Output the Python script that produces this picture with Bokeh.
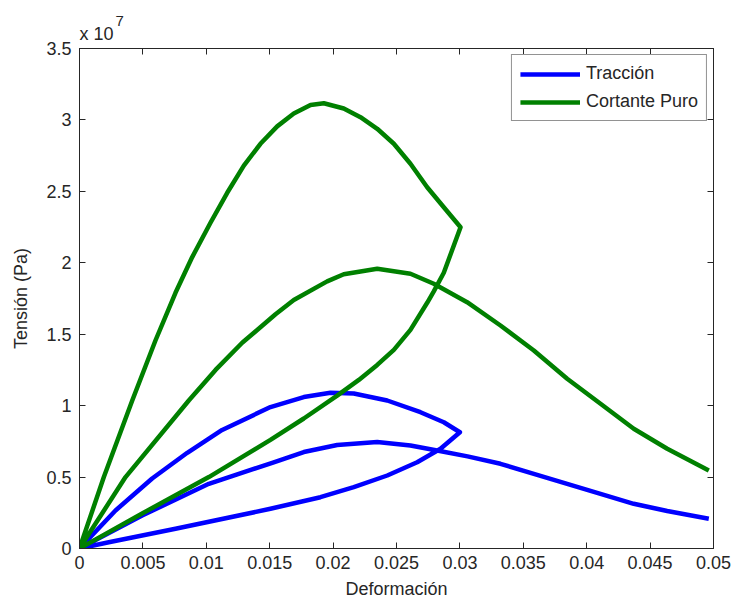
from bokeh.plotting import figure
from bokeh.models import Range1d, FixedTicker, CustomJSTickFormatter, LinearAxis, Title
from bokeh.embed import file_html
from bokeh.resources import INLINE

# Tracción: carga hasta 0.03, descarga a 0 y recarga hasta 0.05 (deformación, tensión en Pa)
traccion_def = [0, 0.00284, 0.00573, 0.0085, 0.01125, 0.01506, 0.01769, 0.01979, 0.02163,
                0.02427, 0.02689, 0.02873, 0.0300,
                0.02847, 0.02663, 0.02427, 0.02163, 0.019, 0.01506, 0.00757, 0.00231, 0,
                0.00494, 0.0102, 0.0152, 0.01769, 0.02032, 0.02348, 0.0261, 0.0282, 0.0306,
                0.0332, 0.03583, 0.03846, 0.04109, 0.04371, 0.04635, 0.04963]
traccion_ten = [0, 0.266e7, 0.49e7, 0.67e7, 0.83e7, 0.99e7, 1.06e7, 1.09e7, 1.085e7,
                1.036e7, 0.954e7, 0.884e7, 0.814e7,
                0.698e7, 0.604e7, 0.511e7, 0.429e7, 0.359e7, 0.278e7, 0.138e7, 0.044e7, 0,
                0.231e7, 0.453e7, 0.60e7, 0.675e7, 0.725e7, 0.745e7, 0.721e7, 0.686e7, 0.645e7,
                0.593e7, 0.523e7, 0.453e7, 0.383e7, 0.313e7, 0.262e7, 0.208e7]

# Cortante puro: mismo ciclo carga / descarga / recarga
cortante_def = [0, 0.00192, 0.00416, 0.00599, 0.00757, 0.00889, 0.01033, 0.01165, 0.01296,
                0.01427, 0.01559, 0.0169, 0.01822, 0.01927, 0.02084, 0.02216, 0.02348, 0.02479,
                0.0261, 0.02742, 0.02873, 0.03005,
                0.02873, 0.02794, 0.02742, 0.0261, 0.02479, 0.02348, 0.02203, 0.02032, 0.01769,
                0.01506, 0.0102, 0.00494, 0,
                0.00363, 0.00862, 0.01073, 0.01283, 0.01546, 0.0169, 0.01953, 0.02084, 0.02348,
                0.0261, 0.02794, 0.03057, 0.0332, 0.03583, 0.03846, 0.04109, 0.04371, 0.04635,
                0.04963]
cortante_ten = [0, 0.5e7, 1.036e7, 1.456e7, 1.79e7, 2.04e7, 2.28e7, 2.49e7, 2.68e7,
                2.833e7, 2.955e7, 3.045e7, 3.105e7, 3.117e7, 3.08e7, 3.019e7, 2.938e7, 2.833e7,
                2.693e7, 2.529e7, 2.389e7, 2.249e7,
                1.93e7, 1.80e7, 1.72e7, 1.53e7, 1.39e7, 1.285e7, 1.18e7, 1.07e7, 0.91e7,
                0.76e7, 0.50e7, 0.245e7, 0,
                0.5e7, 1.036e7, 1.25e7, 1.44e7, 1.64e7, 1.74e7, 1.87e7, 1.92e7, 1.958e7,
                1.923e7, 1.853e7, 1.724e7, 1.561e7, 1.386e7, 1.188e7, 1.013e7, 0.838e7, 0.698e7,
                0.546e7]

x_ticks = [0, 0.005, 0.01, 0.015, 0.02, 0.025, 0.03, 0.035, 0.04, 0.045, 0.05]
y_ticks = [0, 0.5e7, 1e7, 1.5e7, 2e7, 2.5e7, 3e7, 3.5e7]

FONT = "Liberation Sans"
AXIS_COLOR = "#262626"

p = figure(width=736, height=604, output_backend="svg", toolbar_location=None,
           x_range=Range1d(0, 0.05), y_range=Range1d(0, 3.5e7),
           min_border_left=79, min_border_right=23, min_border_top=48, min_border_bottom=56,
           x_axis_label="Deformación", y_axis_label="Tensión (Pa)")
p.background_fill_color = "white"
p.border_fill_color = "white"
p.grid.visible = False
p.outline_line_color = AXIS_COLOR

p.line(traccion_def, traccion_ten, line_color="#0000ff", line_width=4.5,
       line_join="round", legend_label="Tracción")
p.line(cortante_def, cortante_ten, line_color="#008000", line_width=4.5,
       line_join="round", legend_label="Cortante Puro")

xfmt = CustomJSTickFormatter(code="return tick.toString();")
yfmt = CustomJSTickFormatter(code="return (Math.round(tick / 1e6) / 10).toString();")

def style_axis(ax):
    ax.axis_line_color = AXIS_COLOR
    ax.major_tick_line_color = AXIS_COLOR
    ax.major_tick_in = 6
    ax.major_tick_out = 0
    ax.minor_tick_line_color = None
    ax.major_label_text_font = FONT
    ax.major_label_text_font_size = "18px"
    ax.major_label_text_color = AXIS_COLOR
    ax.axis_label_text_font = FONT
    ax.axis_label_text_font_size = "18px"
    ax.axis_label_text_font_style = "normal"
    ax.axis_label_text_color = AXIS_COLOR

xa = p.xaxis[0]
xa.ticker = FixedTicker(ticks=x_ticks)
xa.formatter = xfmt
style_axis(xa)
xa.major_label_standoff = 7
xa.axis_label_standoff = 7

ya = p.yaxis[0]
ya.ticker = FixedTicker(ticks=y_ticks)
ya.formatter = yfmt
style_axis(ya)
ya.major_label_standoff = 8
ya.axis_label_standoff = 12

# box axes on top and right: ticks only
for side in ("above", "right"):
    ticks = x_ticks if side == "above" else y_ticks
    ax = LinearAxis(ticker=FixedTicker(ticks=ticks))
    style_axis(ax)
    ax.major_label_text_font_size = "1px"
    ax.major_label_text_color = None
    ax.major_label_standoff = 0
    p.add_layout(ax, side)

# exponent of the tension axis: "x 10" next to the frame, the raised "7" outside it
base = Title(text="x 10", align="left", offset=0, standoff=10, text_font=FONT,
             text_font_size="18px", text_font_style="normal", text_color=AXIS_COLOR,
             vertical_align="bottom")
p.add_layout(base, "above")

p.title.text = "7"
p.title.align = "left"
p.title.offset = 36
p.title.standoff = -18
p.title.text_font = FONT
p.title.text_font_size = "15px"
p.title.text_font_style = "normal"
p.title.text_color = AXIS_COLOR
p.title.vertical_align = "bottom"

leg = p.legend[0]
leg.location = "top_right"
leg.margin = 6
leg.padding = 8
leg.spacing = 7
leg.glyph_width = 60
leg.glyph_height = 20
leg.label_height = 20
leg.label_standoff = 6
leg.label_text_font = FONT
leg.label_text_font_size = "18px"
leg.label_text_color = AXIS_COLOR
leg.border_line_color = AXIS_COLOR
leg.border_line_width = 1
leg.background_fill_color = "white"
leg.background_fill_alpha = 1.0

open("out.html", "w").write(file_html(p, INLINE))
